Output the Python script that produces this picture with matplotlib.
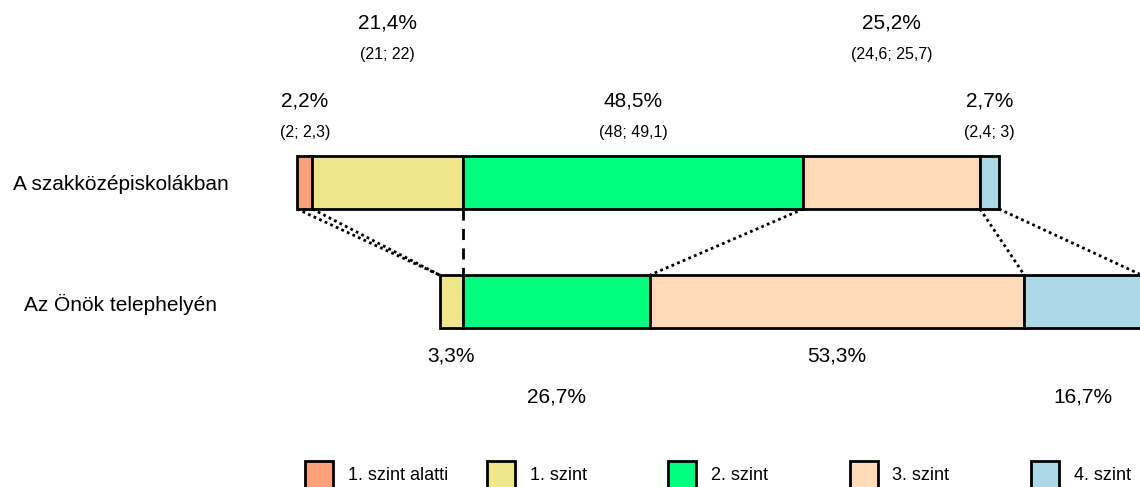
import matplotlib.pyplot as plt
from matplotlib.patches import Rectangle

plt.rcParams['font.family'] = ['Liberation Sans', 'DejaVu Sans']

categories = ["1. szint alatti", "1. szint", "2. szint", "3. szint", "4. szint"]
colors = ["#FFA07A", "#F0E68C", "#00FF7F", "#FFDAB9", "#ADD8E6"]
row_labels = ["A szakközépiskolákban", "Az Önök telephelyén"]

national = [2.2, 21.4, 48.5, 25.2, 2.7]
ci_low = [2, 21, 48, 24.6, 2.4]
ci_high = [2.3, 22, 49.1, 25.7, 3]
local = [0, 3.3, 26.7, 53.3, 16.7]


def fmt(v):
    return ("%g" % v).replace(".", ",")


W, H = 1140, 487
fig = plt.figure(figsize=(W / 100, H / 100), dpi=100)
ax = fig.add_axes([0, 0, 1, 1])
scale = 7.02  # pixel per percent
x0 = 297
ax.set_xlim(-x0 / scale, (W - x0) / scale)
ax.set_ylim(H, 0)
ax.axis('off')

# bar rows (y in pixel units of the picture)
top_y, bot_y, bar_h = 182.5, 301.5, 53

# offset of the local bar so that the 1./2. szint boundary lines up
offset = sum(national[:2]) - sum(local[:2])

cum_top = [0]
for v in national:
    cum_top.append(cum_top[-1] + v)
cum_bot = [offset]
for v in local:
    cum_bot.append(cum_bot[-1] + v)

for i in range(len(categories)):
    ax.barh(top_y, national[i], left=cum_top[i], height=bar_h,
            color=colors[i], edgecolor='black', linewidth=2)
    if local[i] > 0:
        ax.barh(bot_y, local[i], left=cum_bot[i], height=bar_h,
                color=colors[i], edgecolor='black', linewidth=2, clip_on=False)

# connector lines
for a, b in zip(cum_top, cum_bot):
    ls = (0, (4, 3)) if abs(a - b) < 1e-6 else (0, (1, 1.2))
    lw = 2 if abs(a - b) < 1e-6 else 2
    ax.plot([a, b], [top_y + bar_h / 2, bot_y - bar_h / 2],
            color='black', linestyle=ls, linewidth=lw, zorder=0)

# labels above the national bar
for i, v in enumerate(national):
    cx = cum_top[i] + v / 2
    if i % 2 == 0:
        py, cy = 101, 133
    else:
        py, cy = 23, 55
    ax.text(cx, py, fmt(v) + "%", ha='center', va='center', fontsize=15)
    ax.text(cx, cy, "(%s; %s)" % (fmt(ci_low[i]), fmt(ci_high[i])),
            ha='center', va='center', fontsize=11.5)

# labels below the local bar
for i, v in enumerate(local):
    if v <= 0:
        continue
    cx = cum_bot[i] + v / 2
    py = 356 if i % 2 == 1 else 397
    ax.text(cx, py, fmt(v) + "%", ha='center', va='center', fontsize=15)

# row labels
lx = (120.5 - x0) / scale
ax.text(lx, top_y + 2, row_labels[0], ha='center', va='center', fontsize=15)
ax.text(lx, bot_y + 3, row_labels[1], ha='center', va='center', fontsize=15)

# legend
for i, name in enumerate(categories):
    sx = 305 + i * 181.5
    fig.patches.append(Rectangle((sx / W, (H - 489) / H), 28 / W, 28 / H,
                                 transform=fig.transFigure, facecolor=colors[i],
                                 edgecolor='black', linewidth=2))
    fig.text((sx + 43) / W, (H - 476) / H, name, ha='left', va='center',
             fontsize=13)

fig.savefig("out.png", dpi=100)
